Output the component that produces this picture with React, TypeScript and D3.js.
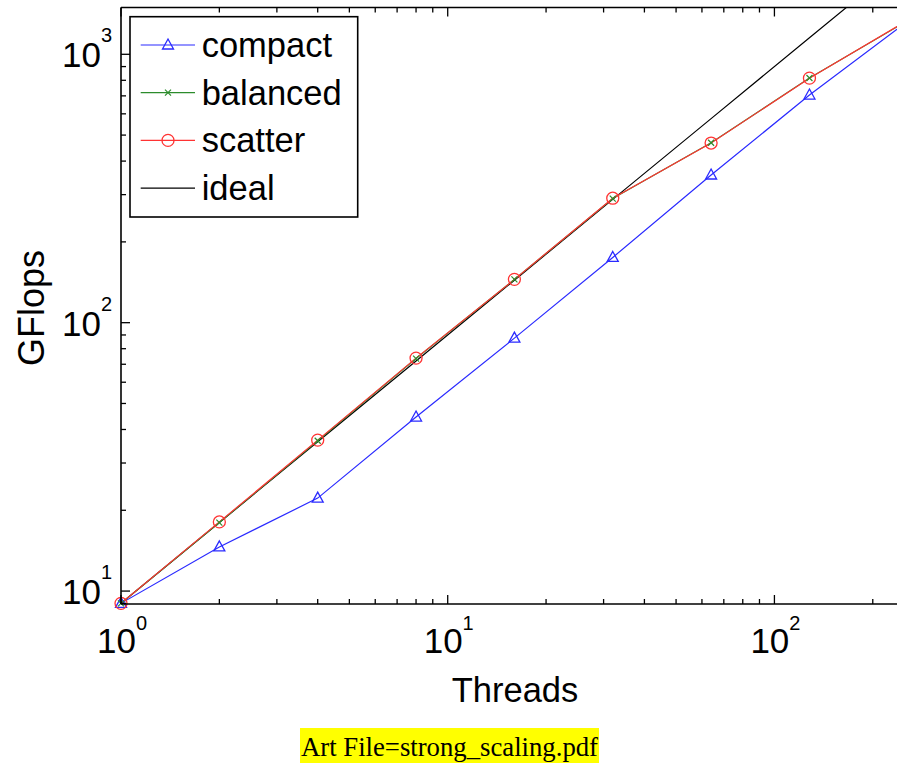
import React from "react";
import * as d3 from "d3";

const threads = [1, 2, 4, 8, 16, 32, 64, 128, 256];
const compact = [9, 14.6, 22.2, 44.5, 87.6, 175, 355, 705, 1330];
const balanced = [9, 18.0, 36.3, 73.5, 145, 290, 468, 816, 1335];
const scatter = [9, 18.1, 36.5, 73.8, 145, 291, 467, 815, 1340];
const ideal = [9, 18, 36, 72, 144, 288, 576, 1152, 2304];
const xTicks = [1, 10, 100];
const yTicks = [10, 100, 1000];
const legendNames = ["compact", "balanced", "scatter", "ideal"];

const W = 897;
const H = 763;
const FONT = "'Liberation Sans', Arial, Helvetica, sans-serif";

export default function App() {
  const x = d3.scaleLog().domain([1, 256]).range([121, 907.8]);
  const y = d3.scaleLog().domain([8.95, 1494]).range([604, 7.5]);
  const [x0, x1] = x.range();
  const [yb, yt] = y.range();

  const line = d3
    .line<number>()
    .x((_, i) => x(threads[i]))
    .y((d) => y(d));

  const minorX: number[] = [];
  for (let dec = 1; dec <= 100; dec *= 10)
    for (let k = 2; k <= 9; k++) if (dec * k <= 256) minorX.push(dec * k);
  const minorY: number[] = [];
  for (let dec = 1; dec <= 1000; dec *= 10)
    for (let k = 2; k <= 9; k++) {
      const v = dec * k;
      if (v >= 8.95 && v <= 1494) minorY.push(v);
    }

  const series = [
    { name: "compact", data: compact, color: "#2a2aff", marker: "tri" },
    { name: "balanced", data: balanced, color: "#2c8c2c", marker: "x" },
    { name: "scatter", data: scatter, color: "#ff3333", marker: "circle" },
  ];

  const marker = (m: string, cx: number, cy: number, color: string, key: string) => {
    if (m === "tri")
      return (
        <path
          key={key}
          d={`M${cx},${cy - 6}L${cx + 5.5},${cy + 4}L${cx - 5.5},${cy + 4}Z`}
          fill="none"
          stroke={color}
          strokeWidth={1.3}
        />
      );
    if (m === "circle")
      return <circle key={key} cx={cx} cy={cy} r={6} fill="none" stroke={color} strokeWidth={1.3} />;
    if (m === "x")
      return (
        <path
          key={key}
          d={`M${cx - 3},${cy - 3}L${cx + 3},${cy + 3}M${cx - 3},${cy + 3}L${cx + 3},${cy - 3}`}
          stroke={color}
          strokeWidth={1.2}
        />
      );
    return null;
  };

  const legendColors = ["#2a2aff", "#2c8c2c", "#ff3333", "#000000"];
  const legendMarkers = ["tri", "x", "circle", "none"];

  return (
    <svg
      width={W}
      height={H}
      style={{ position: "absolute", left: 0, top: 0, background: "#fff" }}
      fontFamily={FONT}
    >
      <defs>
        <clipPath id="plotclip">
          <rect x={x0} y={yt} width={x1 - x0} height={yb - yt} />
        </clipPath>
      </defs>
      <rect x={0} y={0} width={W} height={H} fill="#fff" />

      {/* data */}
      <g clipPath="url(#plotclip)">
        <path d={line(ideal) || ""} fill="none" stroke="#000" strokeWidth={1.2} />
        {series.map((s) => (
          <path key={s.name} d={line(s.data) || ""} fill="none" stroke={s.color} strokeWidth={1.2} />
        ))}
      </g>
      <g>
        {series.map((s) =>
          s.data.map((v, i) => marker(s.marker, x(threads[i]), y(v), s.color, s.name + i))
        )}
      </g>

      {/* axes box */}
      <g stroke="#000" strokeWidth={1.6} fill="none">
        <line x1={x0} y1={yb} x2={x1} y2={yb} />
        <line x1={x0} y1={yt} x2={x1} y2={yt} />
        <line x1={x0} y1={yt} x2={x0} y2={yb} />
        <line x1={x1} y1={yt} x2={x1} y2={yb} />
      </g>
      {/* ticks */}
      <g stroke="#000" strokeWidth={1.3}>
        {xTicks.map((t) => (
          <g key={"xt" + t}>
            <line x1={x(t)} x2={x(t)} y1={yb} y2={yb - 9} />
            <line x1={x(t)} x2={x(t)} y1={yt} y2={yt + 9} />
          </g>
        ))}
        {minorX.map((t) => (
          <g key={"xm" + t}>
            <line x1={x(t)} x2={x(t)} y1={yb} y2={yb - 5} />
            <line x1={x(t)} x2={x(t)} y1={yt} y2={yt + 5} />
          </g>
        ))}
        {yTicks.map((t) => (
          <g key={"yt" + t}>
            <line x1={x0} x2={x0 + 9} y1={y(t)} y2={y(t)} />
            <line x1={x1} x2={x1 - 9} y1={y(t)} y2={y(t)} />
          </g>
        ))}
        {minorY.map((t) => (
          <g key={"ym" + t}>
            <line x1={x0} x2={x0 + 5} y1={y(t)} y2={y(t)} />
            <line x1={x1} x2={x1 - 5} y1={y(t)} y2={y(t)} />
          </g>
        ))}
      </g>

      {/* tick labels */}
      <g fill="#000" fontSize={35}>
        {xTicks.map((t) => (
          <text key={"xl" + t} x={x(t) + 1} y={653} textAnchor="middle">
            <tspan>10</tspan>
            <tspan dy={-23} fontSize={20}>
              {Math.round(Math.log10(t))}
            </tspan>
          </text>
        ))}
        {yTicks.map((t) => (
          <text key={"yl" + t} x={112} y={y(t) + 13} textAnchor="end">
            <tspan>10</tspan>
            <tspan dy={-25} fontSize={20}>
              {Math.round(Math.log10(t))}
            </tspan>
          </text>
        ))}
      </g>

      {/* axis titles */}
      <text x={515} y={701.5} textAnchor="middle" fontSize={34.5} fill="#000">
        Threads
      </text>
      <text
        transform="translate(44,308) rotate(-90)"
        textAnchor="middle"
        fontSize={36}
        fill="#000"
      >
        GFlops
      </text>

      {/* legend */}
      <g>
        <rect x={130} y={16.7} width={227.7} height={200.3} fill="#fff" stroke="#000" strokeWidth={1.6} />
        {legendNames.map((n, i) => {
          const ly = 45 + i * 47.7;
          return (
            <g key={"lg" + n}>
              <line x1={140.7} x2={195} y1={ly} y2={ly} stroke={legendColors[i]} strokeWidth={1.2} />
              {marker(legendMarkers[i], 168, ly, legendColors[i], "lm" + i)}
              <text x={201.7} y={ly + 12} fontSize={34.5} fill="#000">
                {n}
              </text>
            </g>
          );
        })}
      </g>

      {/* caption */}
      <rect x={300} y={728} width={299} height={35} fill="#ffff00" />
      <text
        x={301}
        y={756}
        fontSize={28}
        fontFamily="'Liberation Serif', 'DejaVu Serif', serif"
        fill="#000"
        textLength={297}
        lengthAdjust="spacingAndGlyphs"
      >
        Art File=strong_scaling.pdf
      </text>
    </svg>
  );
}
